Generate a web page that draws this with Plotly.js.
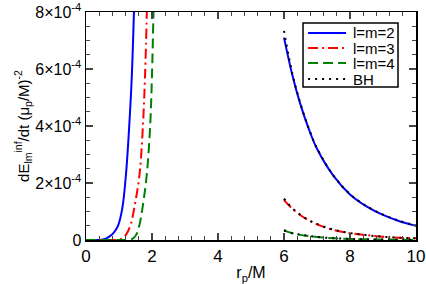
<!DOCTYPE html>
<html><head><meta charset="utf-8">
<script src="https://cdn.plot.ly/plotly-3.0.1.min.js"></script>
<style>html,body{margin:0;padding:0;background:#fff}#c{width:426px;height:284px}</style>
</head><body><div id="c"></div>
<script>
// values in units of 1e-4
const l2LeftX = [0, 0.3, 0.47, 0.6, 0.78, 0.9, 0.98, 1.1, 1.21, 1.31, 1.39, 1.46];
const l2LeftY = [0, 0.001, 0.01, 0.05, 0.18, 0.35, 0.53, 1.11, 2.28, 4.0, 5.8, 8.3];
const l3LeftX = [0, 0.7, 0.97, 1.1, 1.21, 1.35, 1.46, 1.62, 1.72, 1.79, 1.85];
const l3LeftY = [0, 0.001, 0.01, 0.06, 0.18, 0.53, 1.11, 2.28, 3.9, 5.8, 8.3];
const l4LeftX = [0, 1.0, 1.33, 1.43, 1.52, 1.62, 1.71, 1.84, 1.94, 2.0, 2.05];
const l4LeftY = [0, 0.001, 0.01, 0.06, 0.18, 0.53, 1.11, 2.28, 3.9, 5.8, 8.3];
const rightX = [6, 6.25, 6.5, 6.75, 7, 7.5, 8, 8.5, 9, 9.5, 10];
const l2RightY = [7.1, 5.8, 4.75, 3.9, 3.2, 2.25, 1.6, 1.18, 0.88, 0.66, 0.50];
const l3RightY = [1.4, 1.1, 0.87, 0.69, 0.55, 0.35, 0.24, 0.17, 0.11, 0.08, 0.06];
const l4RightY = [0.33, 0.24, 0.18, 0.14, 0.105, 0.062, 0.038, 0.025, 0.016, 0.011, 0.007];
const bhX = [6, 6.25, 6.5, 6.75, 7, 7.5, 8, 8.5, 9, 9.5, 10];
const bhL2Y = [7.34, 5.85, 4.78, 3.92, 3.22, 2.26, 1.61, 1.19, 0.89, 0.67, 0.51];
const bhL3Y = [1.45, 1.12, 0.88, 0.70, 0.56, 0.36, 0.245, 0.17, 0.115, 0.082, 0.06];
const bhL4Y = [0.34, 0.245, 0.185, 0.142, 0.107, 0.063, 0.039, 0.025, 0.016, 0.011, 0.007];
const seriesNames = ['l=m=2', 'l=m=3', 'l=m=4', 'BH'];
const yTickVals = [0, 2, 4, 6, 8];
const yTickText = ["0", "2×10<sup>-4</sup>", "4×10<sup>-4</sup>", "6×10<sup>-4</sup>", "8×10<sup>-4</sup>"];
const xTickVals = [0, 2, 4, 6, 8, 10];
const xTickText = ["0", "2", "4", "6", "8", "10"];

const s = a => a.map(v => v * 1e-4);
const colors = ['#0000ff', '#ff0000', '#008000', '#000000'];
const dashes = ['solid', '10px,4px,2px,4px', '10px,5px', '2px,5px'];
const ln = i => ({color: colors[i], width: 2, dash: dashes[i], shape: 'spline'});
const traces = [
  {x: l2LeftX, y: s(l2LeftY), name: seriesNames[0], line: ln(0)},
  {x: rightX, y: s(l2RightY), name: seriesNames[0], line: ln(0)},
  {x: l3LeftX, y: s(l3LeftY), name: seriesNames[1], line: ln(1)},
  {x: rightX, y: s(l3RightY), name: seriesNames[1], line: ln(1)},
  {x: l4LeftX, y: s(l4LeftY), name: seriesNames[2], line: ln(2)},
  {x: rightX, y: s(l4RightY), name: seriesNames[2], line: ln(2)},
  {x: bhX, y: s(bhL2Y), name: seriesNames[3], line: ln(3)},
  {x: bhX, y: s(bhL3Y), name: seriesNames[3], line: ln(3)},
  {x: bhX, y: s(bhL4Y), name: seriesNames[3], line: ln(3)}
].map(t => Object.assign({type: 'scatter', mode: 'lines', showlegend: false}, t));

// hand-built legend box (to match compact entry spacing)
const legY = [0.908, 0.842, 0.776, 0.706];
const shapes = [{type: 'rect', xref: 'paper', yref: 'paper', x0: 0.6576, x1: 0.9455, y0: 0.671, y1: 0.9518,
                 fillcolor: '#fff', line: {color: '#000', width: 1.5}, layer: 'above'}];
const annotations = [];
seriesNames.forEach((n, i) => {
  shapes.push({type: 'line', xref: 'paper', yref: 'paper', x0: 0.673, x1: 0.788, y0: legY[i], y1: legY[i],
               line: {color: colors[i], width: 2, dash: dashes[i]}, layer: 'above'});
  annotations.push({xref: 'paper', yref: 'paper', x: 0.806, y: legY[i], xanchor: 'left', yanchor: 'middle',
                    text: n, showarrow: false, borderpad: 0, font: {size: 15}});
});

const font = {family: 'Liberation Sans, Arial, sans-serif', size: 15, color: '#000'};
const layout = {
  width: 426, height: 284,
  margin: {l: 86, r: 10, t: 12, b: 44},
  paper_bgcolor: '#fff', plot_bgcolor: '#fff',
  font: font,
  showlegend: false,
  shapes: shapes, annotations: annotations,
  xaxis: {range: [0, 10], tickvals: xTickVals, ticktext: xTickText, ticks: 'inside', ticklen: 7, tickwidth: 1.2,
          showline: true, linecolor: '#000', linewidth: 1.5, mirror: 'ticks', showgrid: false, zeroline: false,
          minor: {dtick: 0.4, ticks: 'inside', ticklen: 4, tickwidth: 1, showgrid: false},
          tickfont: {size: 17}, title: {text: 'r<sub>p</sub>/M', font: {size: 16}, standoff: 2}},
  yaxis: {range: [0, 8e-4], tickvals: s(yTickVals), ticktext: yTickText, ticks: 'inside', ticklen: 7, tickwidth: 1.2,
          showline: true, linecolor: '#000', linewidth: 1.5, mirror: 'ticks', showgrid: false, zeroline: false,
          minor: {dtick: 0.5e-4, ticks: 'inside', ticklen: 4, tickwidth: 1, showgrid: false},
          tickfont: {size: 16},
          title: {text: 'dE<sub>lm</sub><sup>inf</sup>/dt (μ<sub>p</sub>/M)<sup>-2</sup>', font: {size: 15}, standoff: 2}}
};
Plotly.newPlot('c', traces, layout, {displayModeBar: false, staticPlot: true});
</script></body></html>
